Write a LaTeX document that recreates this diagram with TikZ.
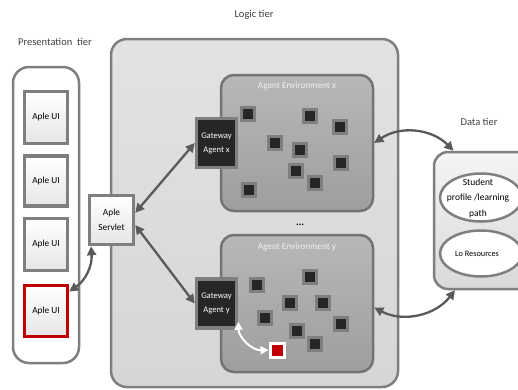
\documentclass[tikz,border=0pt]{standalone}
\usepackage{fontspec}
\setmainfont{Carlito}
\usetikzlibrary{arrows.meta,shapes.geometric,calc}
\definecolor{bordergray}{HTML}{7F7F7F}
\definecolor{arrowgray}{HTML}{5A5A5A}
\definecolor{logicfill}{HTML}{D6D6D6}
\definecolor{envborder}{HTML}{737373}
\definecolor{darkbox}{HTML}{262626}
\definecolor{redbox}{HTML}{C00000}
\definecolor{labelgray}{HTML}{404040}
\tikzset{
  tiertitle/.style={text=labelgray,font=\fontsize{10.5}{12}\selectfont},
  presbox/.style={draw=bordergray,line width=2.5pt,fill=white,rounded corners=16pt},
  logicbox/.style={draw=bordergray,line width=2.5pt,top color=logicfill!70,bottom color=logicfill,rounded corners=16pt},
  envbox/.style={draw=envborder,line width=2.5pt,top color=black!28,bottom color=black!38,rounded corners=13pt},
  uibox/.style={draw=bordergray,line width=3.5pt,top color=white,bottom color=black!10,align=center,
     font=\fontsize{9.3}{15}\selectfont,inner sep=0pt},
  gatebox/.style={draw=bordergray,line width=3.5pt,fill=darkbox,text=white,align=center,
     font=\fontsize{8.6}{14}\selectfont,minimum width=40pt,minimum height=49pt,inner sep=0pt},
  sq/.style={draw=bordergray,line width=3pt,fill=darkbox,minimum size=13pt,inner sep=0pt},
  redsq/.style={draw=white,line width=3pt,fill=redbox,minimum size=14pt,inner sep=0pt},
  dataell/.style={ellipse,draw=bordergray,line width=2.5pt,fill=white,inner sep=0pt},
  dblarrow/.style={draw=arrowgray,line width=2.3pt,{Triangle[length=9pt,width=9pt]}-{Triangle[length=9pt,width=9pt]}},
  whitearrow/.style={draw=white,line width=2pt,{Triangle[length=8pt,width=8pt]}-{Triangle[length=8pt,width=8pt]}},
  envtitle/.style={text=white!94!black,font=\fontsize{9.2}{10}\selectfont},
}
\begin{document}
\begin{tikzpicture}[x=1pt,y=-1pt]
\clip (0,0) rectangle (518,389);
\fill[white] (0,0) rectangle (518,389);
% titles
\node[tiertitle] (tpres) at (55,42) {Presentation\ \ tier};
\node[tiertitle] (tlogic) at (254,15) {Logic tier};
\node[tiertitle] (tdata) at (479,122) {Data tier};
% presentation tier
\node[presbox,minimum width=66pt,minimum height=296pt] (pres) at (46,215) {};
\node[uibox,minimum width=43pt,minimum height=52pt] (ui1) at (46,117.5) {Aple UI};
\node[uibox,minimum width=43pt,minimum height=50pt] (ui2) at (46,181) {Aple UI};
\node[uibox,minimum width=43pt,minimum height=52pt] (ui3) at (46,244.5) {Aple UI};
\node[uibox,draw=redbox,minimum width=43pt,minimum height=51pt] (ui4) at (46,311) {Aple UI};
% logic tier
\node[logicbox,minimum width=287pt,minimum height=348pt] (logic) at (254.5,213) {};
\node[uibox,minimum width=44pt,minimum height=49pt] (serv) at (111.5,220) {Aple\\Servlet};
\node[envbox,minimum width=152pt,minimum height=136pt] (envx) at (297,143) {};
\node[envbox,minimum width=152pt,minimum height=137pt] (envy) at (297,303.5) {};
\node[envtitle] (envxt) at (297,86) {Agent Environment x};
\node[envtitle] (envyt) at (297,247) {Agent Environment y};
\node[font=\fontsize{10}{10}\selectfont\bfseries] (dots) at (300,225) {...};
\node[gatebox] (gwx) at (216.5,143) {Gateway\\Agent x};
\node[gatebox] (gwy) at (216.5,303.5) {Gateway\\Agent y};
% agents in environment x
\foreach \n/\p in {a1/{(248,114)},a2/{(310,116)},a3/{(340,127)},a4/{(275,143)},a5/{(300,150)},
                   a6/{(341,163)},a7/{(296,171)},a8/{(315,183)},a9/{(249,190)}}
  \node[sq] (x\n) at \p {};
% agents in environment y
\foreach \n/\p in {b1/{(257,285)},b2/{(310,277)},b3/{(290,303)},b4/{(323,303)},b5/{(265,318)},
                   b6/{(341,324)},b7/{(297,331)},b8/{(315,344)}}
  \node[sq] (y\n) at \p {};
\node[redsq] (mob) at (277,350) {};
% data tier
\node[draw=bordergray,line width=2.5pt,top color=black!4,bottom color=black!15,rounded corners=14pt,
      minimum width=110pt,minimum height=137pt] (data) at (489,220.5) {};
\node[dataell,minimum width=82pt,minimum height=48pt] (stud) at (481,197.5) {};
\node[align=center,font=\fontsize{9.5}{15.5}\selectfont] (studt) at (478,198) {Student\\profile /learning\\path};
\node[dataell,minimum width=82pt,minimum height=46pt] (lo) at (481,253.5) {};
\node[font=\fontsize{8.3}{10}\selectfont] (lot) at (477,253.5) {Lo Resources};
% connectors
\draw[dblarrow] (serv.17) -- (gwx.west);
\draw[dblarrow] (serv.-12) -- (gwy.west);
\draw[dblarrow] (ui4.40) to[bend right=30] (serv.-128);
\draw[dblarrow] (envx.east) to[bend left=40] (data.117);
\draw[dblarrow] (envy.-3) to[bend right=40] (data.-116);
\draw[whitearrow] (gwy.-40) to[bend right=45] (mob.west);
\end{tikzpicture}
\end{document}
